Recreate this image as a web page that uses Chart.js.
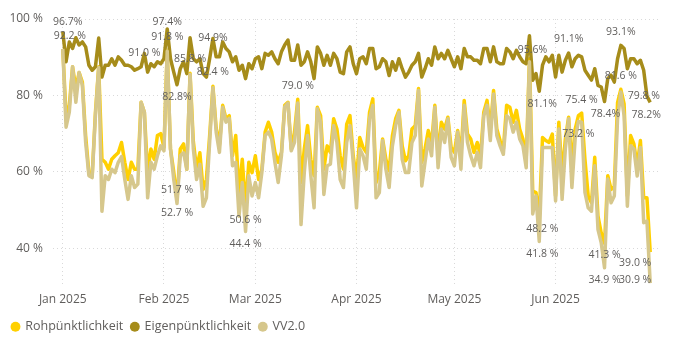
<!DOCTYPE html>
<html>
<head>
<meta charset="utf-8">
<script src="https://cdn.jsdelivr.net/npm/chart.js"></script>
<style>
html, body { margin: 0; padding: 0; background: #fff; }
</style>
</head>
<body>
<canvas id="myChart" width="685" height="349"></canvas>
<script>
// days since 1 Jan 2025 where the month labels sit
var monthDays = [0, 31, 59, 90, 120, 151];
var monthLabels = ["Jan 2025", "Feb 2025", "Mar 2025", "Apr 2025", "May 2025", "Jun 2025"];
var yTicks = [40, 60, 80, 100];

// one value per day, 1 Jan - 30 Jun 2025
var roh = [
    92.2, 74.7, 77.4, 87.5, 81.8, 86.0, 83.5, 69.5, 59.8, 59.0,
    75.6, 87.5, 63.3, 62.5, 60.7, 63.3, 64.2, 65.0, 67.7, 62.5,
    58.0, 62.5, 60.7, 60.7, 78.2, 75.6, 59.8, 66.0, 63.3, 69.5,
    70.0, 66.4, 91.8, 66.0, 60.0, 52.7, 66.0, 67.3, 60.7, 85.8,
    68.0, 60.7, 65.0, 55.4, 58.0, 69.5, 82.4, 71.5, 67.0, 77.4,
    73.9, 74.7, 64.2, 69.5, 54.6, 63.3, 50.6, 62.5, 59.8, 64.2,
    58.0, 60.7, 70.4, 73.0, 70.4, 65.1, 62.5, 65.1, 77.4, 78.2,
    66.0, 70.4, 79.0, 57.2, 66.0, 72.1, 63.3, 59.0, 76.9, 74.7,
    60.7, 66.8, 65.1, 73.9, 71.2, 64.2, 60.7, 72.5, 74.7, 64.2,
    58.0, 69.0, 66.4, 65.1, 75.6, 79.1, 57.2, 59.8, 68.6, 63.3,
    60.3, 69.5, 73.9, 76.1, 66.8, 62.9, 64.2, 71.2, 72.1, 81.8,
    62.5, 66.0, 70.8, 67.3, 77.4, 64.2, 73.0, 71.2, 74.3, 66.4,
    65.1, 70.8, 64.2, 78.7, 69.9, 68.6, 65.1, 67.7, 64.2, 75.6,
    78.7, 71.2, 81.3, 71.2, 68.2, 66.0, 77.4, 76.9, 73.0, 76.1,
    71.2, 68.6, 63.3, 89.6, 55.0, 54.6, 48.2, 69.0, 68.2, 67.7,
    69.9, 53.7, 73.0, 59.0, 68.6, 74.3, 61.6, 71.2, 74.7, 75.4,
    63.3, 53.7, 51.9, 63.8, 48.4, 44.0, 41.3, 59.0, 55.4, 56.3,
    78.2, 81.6, 77.8, 53.7, 69.5, 67.3, 61.6, 68.2, 53.2, 53.2,
    39.0
];
var eigen = [
    96.7, 88.8, 94.0, 92.3, 95.1, 93.2, 94.0, 92.7, 87.9, 86.6,
    87.5, 95.0, 84.8, 87.9, 87.9, 89.6, 87.9, 90.1, 89.2, 87.9,
    87.9, 87.5, 86.6, 87.0, 87.5, 91.0, 86.1, 88.3, 87.5, 88.8,
    88.3, 89.6, 97.4, 89.6, 86.1, 82.8, 87.0, 88.8, 85.7, 95.1,
    89.6, 88.8, 89.6, 85.7, 84.8, 89.6, 94.9, 90.1, 90.1, 94.0,
    92.3, 91.4, 88.8, 90.1, 86.6, 87.9, 84.4, 88.3, 87.0, 89.6,
    90.1, 87.0, 91.0, 90.5, 91.4, 89.6, 88.3, 91.4, 93.2, 94.5,
    89.2, 89.2, 93.2, 87.9, 88.8, 91.4, 88.8, 84.4, 92.7, 91.0,
    87.9, 90.5, 87.9, 91.0, 89.6, 86.1, 85.7, 91.4, 92.7, 88.3,
    85.7, 89.6, 90.1, 88.3, 92.3, 92.3, 87.0, 87.5, 89.6, 88.8,
    85.2, 88.8, 86.6, 89.6, 87.0, 84.8, 86.1, 87.9, 88.8, 91.0,
    84.8, 87.0, 89.6, 87.9, 92.7, 89.6, 91.0, 89.6, 91.8, 89.6,
    87.5, 90.1, 87.0, 92.3, 90.1, 90.1, 89.2, 89.2, 88.3, 92.3,
    92.3, 88.8, 92.7, 88.8, 88.3, 88.3, 92.3, 91.4, 89.6, 91.8,
    90.1, 88.8, 88.3, 95.6, 84.0, 85.7, 81.1, 87.9, 90.1, 88.8,
    90.5, 84.8, 90.5, 86.1, 89.2, 91.1, 87.5, 89.6, 90.5, 90.1,
    86.6, 85.3, 84.0, 87.0, 82.6, 82.2, 78.4, 84.4, 85.3, 83.5,
    89.6, 93.1, 92.3, 87.0, 89.6, 89.6, 88.3, 89.2, 86.6, 79.8,
    78.2
];
var vv = [
    92.2, 71.7, 75.6, 87.5, 78.2, 86.0, 82.6, 67.7, 59.0, 58.5,
    74.7, 87.3, 49.7, 59.0, 58.0, 60.7, 59.8, 62.5, 64.0, 58.0,
    52.8, 59.0, 55.9, 56.8, 78.2, 75.6, 53.2, 62.5, 60.7, 64.2,
    66.8, 65.5, 91.6, 66.0, 58.0, 51.7, 64.2, 65.0, 60.7, 85.5,
    66.0, 58.0, 62.0, 51.0, 53.2, 67.7, 82.0, 70.4, 65.1, 76.9,
    73.0, 74.0, 61.6, 62.5, 48.4, 57.2, 44.4, 59.0, 53.7, 57.2,
    53.2, 59.8, 69.5, 70.4, 68.6, 62.5, 57.2, 64.2, 77.0, 78.0,
    65.5, 67.7, 78.0, 46.2, 59.8, 69.5, 59.0, 50.6, 76.5, 73.0,
    54.1, 61.6, 62.0, 72.1, 67.7, 58.0, 55.9, 67.7, 72.1, 62.5,
    50.6, 66.0, 64.2, 60.7, 73.9, 77.4, 53.2, 54.6, 68.2, 60.7,
    55.9, 66.8, 72.1, 75.6, 63.3, 59.8, 59.8, 67.7, 69.5, 81.3,
    56.3, 62.5, 68.6, 64.2, 76.9, 61.1, 71.2, 67.7, 73.9, 63.8,
    61.6, 70.4, 60.7, 77.4, 67.7, 64.2, 61.6, 65.1, 61.1, 74.7,
    77.4, 68.2, 80.4, 69.5, 66.8, 64.6, 74.7, 73.9, 70.4, 73.0,
    68.6, 66.8, 61.1, 88.8, 49.0, 53.7, 41.8, 66.4, 66.4, 66.4,
    66.4, 52.4, 71.2, 52.8, 66.0, 73.9, 55.9, 68.6, 73.2, 73.0,
    54.6, 50.6, 49.7, 61.6, 44.9, 41.4, 34.9, 58.1, 51.9, 53.7,
    73.9, 80.9, 74.7, 51.0, 66.8, 66.0, 58.9, 66.4, 46.7, 47.1,
    30.9
];

// value labels: [dataset, day, dx, dy, space before %]
var pointLabels = [
    [1, 0, 5, -10, 0], [0, 0, 7, -13, 1], [1, 25, 0, 0, 1],
    [1, 32, 0, -7, 0], [0, 32, 0, -13, 1], [1, 35, 0, 12, 0],
    [0, 39, 0, -14, 1], [2, 35, 0, -14, 1], [0, 35, 0, 13, 1],
    [1, 46, 0, 0, 0], [0, 46, 0, -14, 1], [0, 56, 0, 12, 1],
    [2, 56, 0, 13, 1], [0, 72, 0, -13, 1], [1, 143, 3, 14, 0],
    [1, 146, 3, 13, 0], [0, 146, 3, 12, 1], [2, 146, 3, 13, 1],
    [1, 155, 0, -14, 0], [0, 159, 0, -13, 1], [2, 158, 0, 13, 1],
    [1, 166, 1, 12, 0], [0, 166, 0, 12, 1], [2, 166, 0, 12, 1],
    [1, 171, 0, -13, 0], [0, 171, 0, -13, 1], [1, 179, -3, 0, 1],
    [1, 180, -4, 13, 0], [0, 180, -15, 11, 1], [2, 180, -15, -3, 1]
];

function pts(arr) {
    return arr.map(function (v, i) { return { x: i, y: v }; });
}

var textColor = '#605E5C';
Chart.defaults.font.family = '"Segoe UI", "Open Sans", sans-serif';

var labelPlugin = {
    id: 'pointText',
    afterDatasetsDraw: function (chart) {
        var ctx = chart.ctx;
        ctx.save();
        ctx.font = '10.5px "Segoe UI", "Open Sans", sans-serif';
        ctx.fillStyle = textColor;
        ctx.textAlign = 'center';
        ctx.textBaseline = 'middle';
        pointLabels.forEach(function (l) {
            var pt = chart.getDatasetMeta(l[0]).data[l[1]];
            var v = chart.data.datasets[l[0]].data[l[1]].y;
            ctx.fillText(v.toFixed(1) + (l[4] ? ' %' : '%'), pt.x + l[2], pt.y + l[3]);
        });
        ctx.restore();
    }
};

var ctx = document.getElementById("myChart");
var myLineChart = new Chart(ctx, {
    type: 'line',
    data: {
        datasets: [{
            label: 'Rohpünktlichkeit',
            data: pts(roh),
            borderColor: '#FFD000',
            backgroundColor: '#FFD000',
            order: 3,
        }, {
            label: 'Eigenpünktlichkeit',
            data: pts(eigen),
            borderColor: '#A68C1A',
            backgroundColor: '#A68C1A',
            order: 2,
        }, {
            label: 'VV2.0',
            data: pts(vv),
            borderColor: '#D6C78C',
            backgroundColor: '#D6C78C',
            order: 1,
        }],
    },
    options: {
        responsive: false,
        animation: false,
        devicePixelRatio: 1,
        layout: { padding: { left: 4, right: 25, top: 19, bottom: 6 } },
        elements: {
            point: { radius: 0 },
            line: { borderWidth: 3.5, tension: 0, borderJoinStyle: 'round' },
        },
        scales: {
            x: {
                type: 'linear',
                min: -3,
                max: 183,
                afterBuildTicks: function (s) {
                    s.ticks = monthDays.map(function (d) { return { value: d }; });
                },
                afterFit: function (s) { s.height = 26; },
                ticks: {
                    callback: function (v) { return monthLabels[monthDays.indexOf(v)]; },
                    color: textColor,
                    font: { size: 12 },
                    maxRotation: 0,
                    autoSkip: false,
                    padding: 6,
                },
                grid: { color: '#D9D9D9', drawTicks: false },
                border: { display: false, dash: [1, 3] },
            },
            y: {
                min: 30,
                max: 100,
                afterBuildTicks: function (s) {
                    s.ticks = yTicks.map(function (t) { return { value: t }; });
                },
                afterFit: function (s) { s.width = 49; },
                ticks: {
                    callback: function (v) { return v + ' %'; },
                    color: textColor,
                    font: { size: 12 },
                    padding: 10,
                },
                grid: { color: '#D9D9D9', drawTicks: false },
                border: { display: false, dash: [1, 3] },
            },
        },
        plugins: {
            tooltip: { enabled: false },
            legend: {
                position: 'bottom',
                align: 'start',
                labels: {
                    usePointStyle: true,
                    pointStyle: 'circle',
                    boxWidth: 7,
                    boxHeight: 7,
                    padding: 8,
                    color: textColor,
                    font: { size: 12.5 },
                    sort: function (a, b) { return a.datasetIndex - b.datasetIndex; },
                    generateLabels: function (chart) {
                        return Chart.defaults.plugins.legend.labels.generateLabels(chart).map(function (l) {
                            l.lineWidth = 0;
                            return l;
                        });
                    },
                },
            },
        },
    },
    plugins: [labelPlugin],
});
</script>
</body>
</html>
